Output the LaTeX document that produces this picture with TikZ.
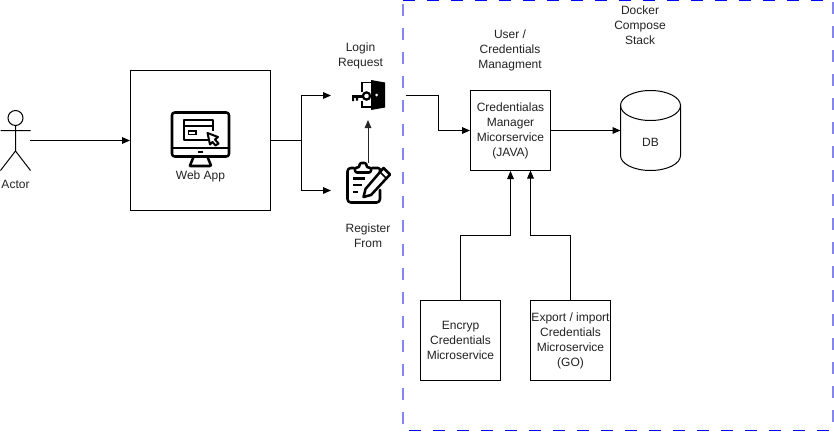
\documentclass[tikz,border=0pt]{standalone}
\usepackage{fontspec}
\setmainfont{Liberation Sans}
\usetikzlibrary{arrows.meta}
\definecolor{txt}{HTML}{222222}
\definecolor{framev}{HTML}{8585EE}
\tikzset{
  x=0.75pt,y=-0.75pt,
  box/.style={draw=black,line width=0.75pt,fill=white,minimum width=60.75pt,minimum height=60pt,inner sep=0pt,align=center,font=\fontsize{9}{11.25}\selectfont,text=txt},
  lbl/.style={align=center,inner sep=0pt,font=\fontsize{9}{11.25}\selectfont,text=txt},
  conn/.style={draw=black,line width=0.75pt,-{Triangle[length=6pt,width=5pt]}},
  icon/.style={draw=black,line width=1.9pt,line join=round,line cap=round},
  frameh/.style={draw=blue,line width=0.8pt,dash pattern=on 9pt off 9pt},
  framevv/.style={draw=framev,line width=1.5pt,dash pattern=on 9pt off 9pt},
}
\begin{document}
\begin{tikzpicture}
\useasboundingbox (0,0) rectangle (834,432);
\clip (0,0) rectangle (834,432);
% stack frame: one continuous dash run round four sides
\draw[frameh] (403,0.5) -- (833,0.5);
\draw[framevv,dash phase=322.5pt] (833,0) -- (833,430);
\draw[frameh,dash phase=645pt] (833,430.5) -- (403,430.5);
\draw[framevv,dash phase=967.5pt] (403,430) -- (403,0);
% boxes
\node[box,minimum width=105pt,minimum height=105pt] (web) at (200.5,140.5) {};
\node[box,minimum width=60pt,minimum height=60pt] (mgr) at (510.5,130.5) {Credentialas\\Manager\\Micorservice\\(JAVA)};
\node[box,minimum width=60pt,minimum height=60pt] (enc) at (460.5,340.5) {Encryp\\Credentials\\Microservice};
\node[box,minimum width=60pt,minimum height=60pt] (exp) at (570.5,340.5) {Export / import\\Credentials\\Microservice\\(GO)};
% db
\draw[line width=0.75pt,fill=white] (620.5,105.5) .. controls (620.5,97.2) and (633.9,90.5) .. (650.5,90.5) .. controls (667.1,90.5) and (680.5,97.2) .. (680.5,105.5) -- (680.5,155.5) .. controls (680.5,163.8) and (667.1,170.5) .. (650.5,170.5) .. controls (633.9,170.5) and (620.5,163.8) .. (620.5,155.5) -- cycle;
\draw[line width=0.75pt] (620.5,105.5) .. controls (620.5,113.8) and (633.9,120.5) .. (650.5,120.5) .. controls (667.1,120.5) and (680.5,113.8) .. (680.5,105.5);
\coordinate (db) at (620.5,130.5);
\node[lbl] (dbl) at (650.5,142.5) {DB};
% labels
\node[lbl] (actorl) at (15.5,184) {Actor};
\node[lbl] (webl) at (200.5,176) {Web App};
\node[lbl] (login) at (360.5,55.5) {Login\\Request};
\node[lbl] (reg) at (368,235.5) {Register\\From};
\node[lbl] (cred) at (510,50.5) {User /\\Credentials\\Managment};
\node[lbl] (dock) at (640,25.5) {Docker\\Compose\\Stack};
% actor
\coordinate (act) at (30,140.5);
\draw[line width=0.75pt] (15.5,118) circle (7.5);
\draw[line width=0.75pt] (15.5,125.5) -- (15.5,151) (0.5,130.5) -- (30.5,130.5) (0.5,170.5) -- (15.5,151) -- (30.5,170.5);
% web icon
\draw[icon,rounded corners=2pt] (172,112.5) rectangle (229,156.5);
\draw[icon] (172,148) -- (229,148);
\draw[line width=1.4pt] (198,152) -- (203,152);
\draw[icon] (193.5,157) -- (190,165.5) (207.5,157) -- (211,165.5) (190,166) -- (210,166);
\draw[line width=1.5pt,line join=round] (213,140) -- (183.5,140) -- (183.5,120) -- (212.5,120) -- (212.5,131);
\draw[line width=1.5pt] (183.5,126) -- (212.5,126);
\draw[line width=1.2pt] (188.5,131) rectangle (196,134.5);
\draw[line width=1.5pt,fill=white,line join=round] (207.5,133) -- (218,137) -- (215,139.5) -- (218.5,143.5) -- (215.5,145.5) -- (212.5,142) -- (210,144.5) -- cycle;
% door-key icon
\fill[black] (371,80) -- (385,82.5) -- (385,107.5) -- (371,110) -- cycle;
\fill[white] (376.5,95) circle (1.5);
\draw[line width=1.4pt] (371,82.5) -- (362,82.5) -- (362,91.5) (362,100.5) -- (362,107) -- (371,107);
\draw[line width=1.7pt,fill=white] (366.5,96) circle (3.6);
\fill[black] (352,94.5) rectangle (364,98);
\fill[black] (352,97) rectangle (354.2,101) (355.8,97) rectangle (358,100.5);
% clipboard icon
\draw[icon,rounded corners=2.5pt] (354,168) -- (347.5,168) -- (347.5,202.5) -- (380,202.5) -- (380,190);
\draw[icon,rounded corners=1.5pt] (380,172) -- (380,168) -- (372,168);
\draw[icon,fill=white,rounded corners=1.5pt] (355,172.5) -- (355,167.5) -- (359.5,167.5) -- (359.5,163) -- (366.5,163) -- (366.5,167.5) -- (371,167.5) -- (371,172.5) -- cycle;
\draw[line width=1.7pt] (353,178.5) -- (365,178.5) (353,185) -- (362,185) (353,192) -- (358,192);
\draw[line width=1.9pt,line join=round,fill=white] (383.5,168) -- (390,174.5) -- (371,195) -- (363.5,197) -- (365.5,189) -- cycle;
\draw[line width=1.2pt] (380,172) -- (386,178);
% connectors
\coordinate (fork) at (301,140.5);
\coordinate (loginp) at (331,95.5);
\coordinate (regp) at (331,190.5);
\coordinate (keyo) at (406,95.5);
\coordinate (keyup) at (368,120);
\coordinate (clipup) at (368,163);
\draw[conn] (act) -- (web.west);
\draw[conn] (web.east) -- (fork) |- (loginp);
\draw[conn] (fork) |- (regp);
\draw[conn,draw=black!85] (clipup) -- (keyup);
\draw[conn] (keyo) -- (438,95.5) |- (mgr.west);
\draw[conn] (mgr.east) -- (db);
\draw[conn] (enc.north) |- (510.5,235.5) -- (mgr.south);
\draw[conn] (exp.north) |- (530.5,235.5) -- (530.5,170.5);
\end{tikzpicture}
\end{document}
